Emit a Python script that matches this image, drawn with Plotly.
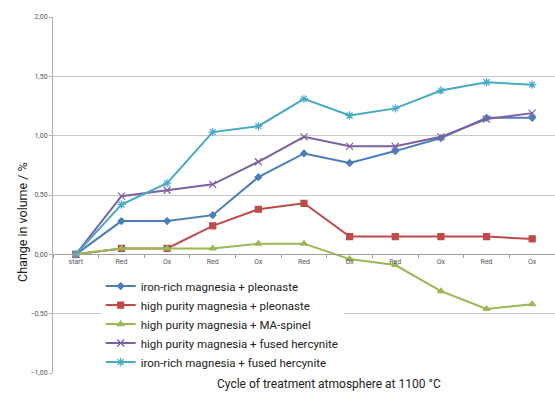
import plotly.graph_objects as go

categories = ["start", "Red", "Ox", "Red", "Ox", "Red", "Ox", "Red", "Ox", "Red", "Ox"]
series_names = [
    "iron-rich magnesia + pleonaste",
    "high purity magnesia + pleonaste",
    "high purity magnesia + MA-spinel",
    "high purity magnesia + fused hercynite",
    "iron-rich magnesia + fused hercynite",
]
iron_pleo = [0, 0.28, 0.28, 0.33, 0.65, 0.85, 0.77, 0.87, 0.98, 1.15, 1.15]
hp_pleo = [0, 0.05, 0.05, 0.24, 0.38, 0.43, 0.15, 0.15, 0.15, 0.15, 0.13]
hp_ma = [0, 0.05, 0.05, 0.05, 0.09, 0.09, -0.04, -0.09, -0.31, -0.46, -0.42]
hp_herc = [0, 0.49, 0.54, 0.59, 0.78, 0.99, 0.91, 0.91, 0.99, 1.14, 1.19]
iron_herc = [0, 0.42, 0.60, 1.03, 1.08, 1.31, 1.17, 1.23, 1.38, 1.45, 1.43]

values = [iron_pleo, hp_pleo, hp_ma, hp_herc, iron_herc]
colors = ["#4a7ebb", "#be4b48", "#98b954", "#7d60a0", "#46aac5"]
symbols = ["diamond", "square", "triangle-up", "x-thin-open", "asterisk-open"]
sizes = [5, 6, 6, 7, 7]

x_idx = list(range(len(categories)))

fig = go.Figure()
for name, v, c, s, sz in zip(series_names, values, colors, symbols, sizes):
    fig.add_trace(go.Scatter(
        x=x_idx, y=v, name=name, mode="lines+markers",
        line=dict(color=c, width=2),
        marker=dict(symbol=s, size=sz, color=c, line=dict(color=c, width=1.2)),
    ))

fig.update_layout(
    width=555, height=394,
    margin=dict(l=53, r=0, t=17, b=21),
    paper_bgcolor="white", plot_bgcolor="white",
    separators=",.",
    font=dict(family="Roboto", color="#333333"),
    showlegend=True,
    legend=dict(
        x=0.095, y=0.285, xanchor="left", yanchor="top",
        bgcolor="white", font=dict(size=11.5, color="#222222"),
        tracegroupgap=0, itemwidth=30,
    ),
    xaxis=dict(
        range=[-0.5, len(categories) - 0.5],
        tickmode="array", tickvals=x_idx, ticktext=categories,
        anchor="free", position=1/3,
        showgrid=False, showline=True, linecolor="#a0a0a0", linewidth=1,
        ticks="", tickfont=dict(size=7, color="#555555"),
        minor=dict(tickvals=[i - 0.5 for i in range(len(categories) + 1)],
                   ticks="outside", ticklen=3, tickcolor="#a0a0a0", showgrid=False),
        zeroline=False,
    ),
    yaxis=dict(
        range=[-1, 2], tickvals=[-1, -0.5, 0, 0.5, 1, 1.5, 2],
        tickformat=".2f", showgrid=True, gridcolor="#c8c8c8", gridwidth=1,
        showline=True, linecolor="#b0b0b0", linewidth=1,
        zeroline=False, tickfont=dict(size=7, color="#555555"),
        ticks="outside", ticklen=3, tickcolor="#b0b0b0",
    ),
)

fig.add_annotation(
    text="Change in volume / %", textangle=-90,
    xref="paper", yref="paper", x=-0.062, y=0.424, xanchor="center", yanchor="middle",
    showarrow=False, font=dict(size=12.5, color="#222222"),
)
fig.add_annotation(
    text="Cycle of treatment atmosphere at 1100 °C",
    xref="paper", yref="paper", x=0.55, y=-0.031, yanchor="middle",
    showarrow=False, font=dict(size=12, color="#222222"),
)

fig.write_html("out.html")
